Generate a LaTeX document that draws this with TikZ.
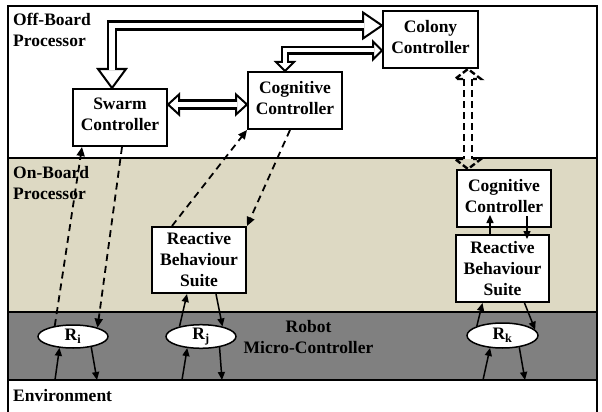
\documentclass[tikz,border=0pt]{standalone}
\usepackage{fontspec}
\setmainfont{Liberation Serif}
\usetikzlibrary{arrows.meta,calc,shapes.geometric}
\definecolor{bandtan}{HTML}{DDD9C3}
\definecolor{bandgray}{HTML}{808080}
\newcommand\lowpad{\rule[-6pt]{0pt}{6pt}}
\begin{document}
\begin{tikzpicture}[x=1pt,y=-1pt,
  font=\fontsize{17.5}{21}\selectfont\bfseries,
  box/.style={draw, line width=2pt, fill=white, align=center, inner sep=0pt},
  rob/.style={ellipse, draw, line width=1.5pt, fill=white, minimum width=70pt, minimum height=23pt, inner sep=0pt},
  lbl/.style={inner sep=0pt},
  dsh/.style={line width=1.8pt, dash pattern=on 7pt off 5pt, -{Triangle[length=9pt,width=8pt]}},
  sol/.style={line width=1.5pt, -{Triangle[length=8pt,width=7pt]}},
  hhead/.style={draw, line width=2pt, fill=white, line join=miter},
  hshaft/.style={line width=2.5pt, double=white, double distance=5.5pt},
  hshaftthin/.style={line width=2.2pt, double=white, double distance=4pt},
  dhead/.style={line width=2.4pt, dash pattern=on 6pt off 3pt},
  dshaft/.style={line width=2.4pt, double=white, double distance=5.5pt, dash pattern=on 7pt off 4pt},
  band/.style={line width=2pt}
]
\useasboundingbox (0,0) rectangle (602,412);
% bands
\fill[white] (8,6) rectangle (597,158);
\fill[bandtan] (8,158) rectangle (597,312);
\fill[bandgray] (8,312) rectangle (597,380);
\draw[band] (8,412) -- (8,6) -- (597,6) -- (597,412);
\draw[band] (8,158) -- (597,158);
\draw[band] (8,312) -- (597,312);
\draw[band] (8,380) -- (597,380);
% region labels
\node[lbl, anchor=north west, align=left] (offb) at (13,13) {Off-Board\\Processor};
\node[lbl, anchor=north west, align=left] (onb) at (13,166) {On-Board\\Processor};
\node[lbl, anchor=base west] (env) at (13,401) {Environment};
\node[lbl, align=center] (rmc) at (308.5,337) {Robot\\Micro-Controller};
% boxes
\node[box, minimum width=95pt, minimum height=57pt] (colony) at (430.5,39.5) {Colony\\Controller\lowpad};
\node[box, minimum width=94pt, minimum height=57pt] (swarm) at (120,117.5) {Swarm\\Controller\lowpad};
\node[box, minimum width=94pt, minimum height=57pt] (cog) at (295,100.5) {Cognitive\\Controller\lowpad};
\node[box, minimum width=94pt, minimum height=66pt] (rbsj) at (199,260) {Reactive\\Behaviour\\Suite};
\node[box, minimum width=94pt, minimum height=57pt] (cogk) at (504,198.5) {Cognitive\\Controller\lowpad};
\node[box, minimum width=93pt, minimum height=67pt] (rbsk) at (502.5,268.5) {Reactive\\Behaviour\\Suite};
\node[rob] (Ri) at (73,336.5) {R\textsubscript{i}};
\node[rob] (Rj) at (201,336.5) {R\textsubscript{j}};
\node[rob, minimum width=71pt, minimum height=25pt] (Rk) at (502.5,335.5) {R\textsubscript{k}};
% hollow arrow colony <-> swarm
\coordinate (a1) at ($(colony.west)+(0,-14)$);
\coordinate (a2) at ($(swarm.north)+(-8,0)$);
\draw[hhead] (a1) -- ($(a1)+(-19,-13)$) -- ($(a1)+(-19,13)$) -- cycle;
\draw[hhead] (a2) -- ($(a2)+(-14,-19)$) -- ($(a2)+(14,-19)$) -- cycle;
\draw[hshaft] ($(a1)+(-18,0)$) -- (a2 |- a1) -- ($(a2)+(0,-18)$);
% hollow arrow cognitive <-> colony
\coordinate (b1) at ($(cog.north)+(-10,0)$);
\coordinate (b2) at ($(colony.west)+(0,11)$);
\draw[hhead] (b1) -- ($(b1)+(-9,-9)$) -- ($(b1)+(9,-9)$) -- cycle;
\draw[hhead] (b2) -- ($(b2)+(-9,-9)$) -- ($(b2)+(-9,9)$) -- cycle;
\draw[hshaftthin] ($(b1)+(0,-8)$) -- (b1 |- b2) -- ($(b2)+(-8,0)$);
% hollow arrow swarm <-> cognitive
\coordinate (c1) at ($(swarm.east)+(0,-13)$);
\coordinate (c2) at (cog.west |- c1);
\draw[hhead] (c1) -- ($(c1)+(11,-10)$) -- ($(c1)+(11,10)$) -- cycle;
\draw[hhead] (c2) -- ($(c2)+(-11,-10)$) -- ($(c2)+(-11,10)$) -- cycle;
\draw[hshaft] ($(c1)+(10,0)$) -- ($(c2)+(-10,0)$);
% dashed double arrow colony <-> cognitive k
\coordinate (d1) at ($(colony.south)+(37.5,0)$);
\coordinate (d2) at (d1 |- cogk.north);
\draw[dshaft] ($(d1)+(0,10)$) -- ($(d2)+(0,-10)$);
\draw[dhead] ($(d1)+(-5,10)$) -- ($(d1)+(-13,10)$) -- (d1) -- ($(d1)+(13,10)$) -- ($(d1)+(5,10)$);
\draw[dhead] ($(d2)+(-5,-10)$) -- ($(d2)+(-13,-10)$) -- (d2) -- ($(d2)+(13,-10)$) -- ($(d2)+(5,-10)$);
% dashed arrows
\draw[dsh] (Ri.150) -- ($(swarm.south west)+(10,0)$);
\draw[dsh] ($(swarm.south)+(2,0)$) -- (Ri.20);
\draw[dsh] ($(rbsj.north west)+(21,0)$) -- (cog.south west);
\draw[dsh] ($(cog.south)+(-5,0)$) -- (rbsj.north east);
% solid arrows
\coordinate (ei1) at (55,380);
\coordinate (ei2) at (97,380);
\coordinate (ej1) at (182,380);
\coordinate (ej2) at (222,380);
\coordinate (ek1) at (483,380);
\coordinate (ek2) at (525,380);
\draw[sol] (ei1) -- (Ri.220);
\draw[sol] (Ri.-30) -- (ei2);
\draw[sol] (ej1) -- (Rj.220);
\draw[sol] (Rj.-30) -- (ej2);
\draw[sol] (Rj.155) -- ($(rbsj.south)+(-12,0)$);
\draw[sol] ($(rbsj.south)+(17,0)$) -- (Rj.25);
\draw[sol] (ek1) -- (Rk.225);
\draw[sol] (Rk.-35) -- (ek2);
\draw[sol] (Rk.160) -- ($(rbsk.south)+(-20,0)$);
\draw[sol] ($(rbsk.south)+(22,0)$) -- (Rk.10);
\draw[sol] ($(rbsk.north)+(-12.5,0)$) -- ($(cogk.south)+(-14,-13)$);
\draw[sol] ($(cogk.south)+(23,-12)$) -- ($(rbsk.north)+(24.5,5)$);
\end{tikzpicture}
\end{document}
